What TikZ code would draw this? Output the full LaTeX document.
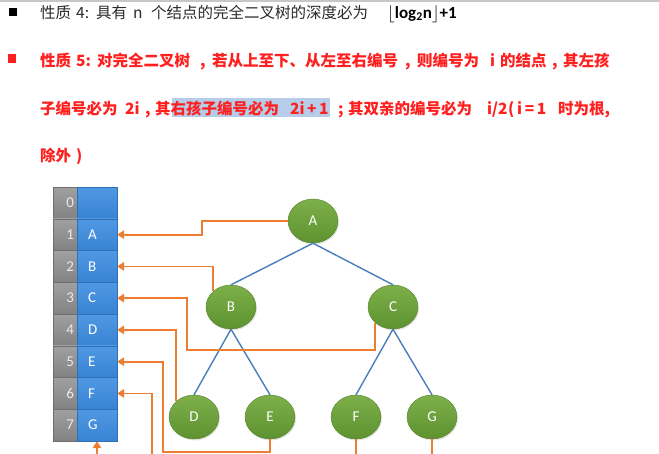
\documentclass[tikz,border=0pt]{standalone}
\usepackage{fontspec}
\setmainfont{Carlito}
\newfontfamily\cjk{Noto Sans CJK SC}
\usetikzlibrary{arrows.meta,shadows,shapes.geometric}
\definecolor{conncol}{HTML}{ED7D31}
\definecolor{treecol}{HTML}{4A7EBB}
\definecolor{greentop}{HTML}{7DB04A}
\definecolor{greenbot}{HTML}{5E9230}
\definecolor{redtxt}{HTML}{FF1F1F}
\definecolor{graytxt}{HTML}{2B2B2B}
\definecolor{hilite}{HTML}{B5CDE8}
\definecolor{graytop}{HTML}{A0A0A0}
\definecolor{graybot}{HTML}{828282}
\definecolor{bluetop}{HTML}{4F98E3}
\definecolor{bluebot}{HTML}{3883D4}
\begin{document}
\begin{tikzpicture}[x=1pt,y=-1pt,
  tnode/.style={ellipse, minimum width=50pt, minimum height=44pt, inner sep=0pt,
    top color=greentop, bottom color=greenbot, draw=greenbot!90!black, line width=0.4pt,
    text=white, font=\fontsize{15}{18}\selectfont,
    drop shadow={opacity=0.2, shadow xshift=1pt, shadow yshift=-1.5pt}},
  graycell/.style={rectangle, minimum height=31.75pt, text width=18pt, inner xsep=3pt,
    inner ysep=0pt, align=right, top color=graytop, bottom color=graybot,
    draw=graybot!85!black, line width=0.4pt, text=white!92!black,
    font=\fontsize{15}{18}\selectfont},
  bluecell/.style={rectangle, minimum height=31.75pt, text width=18pt, inner xsep=11pt,
    inner ysep=0pt, align=left, top color=bluetop, bottom color=bluebot,
    draw=bluebot!85!black, line width=0.4pt, text=white,
    font=\fontsize{15}{18}\selectfont},
  conn/.style={draw=conncol, line width=1.8pt,
    -{Triangle[length=7pt,width=8.5pt,fill=conncol]}},
  edge/.style={draw=treecol, line width=1.4pt},
  tgray/.style={anchor=base west, inner sep=0pt, text=graytxt,
    font=\cjk\fontsize{15.5}{18}\selectfont},
  tred/.style={anchor=base west, inner sep=0pt, text=redtxt,
    font=\cjk\bfseries\fontsize{15.5}{18}\selectfont},
  bulletbox/.style={rectangle, inner sep=0pt, minimum width=8pt, minimum height=8pt}
]
\useasboundingbox (0,0) rectangle (659,453);
\fill[white] (0,0) rectangle (659,453);
\begin{scope}
\clip (0,0) rectangle (659,453);
\draw[line width=1.5pt, draw=black!22] (0,0.8) -- (659,0.8);

% bullets
\node[bulletbox, fill=black] (b1) at (13,12) {};
\node[bulletbox, fill=redtxt, minimum height=9pt] (b2) at (12,58) {};

% line 1
\node[tgray] (l1a) at (40,18) {性质};
\node[tgray] (l1b) at (76,18) {4:};
\node[tgray] (l1c) at (96,18) {具有};
\node[tgray] (l1d) at (133,18) {n};
\node[tgray] (l1e) at (151,18) {个结点的完全二叉树的深度必为};
\node[anchor=base west, inner sep=0pt, text=black, font=\bfseries\fontsize{17}{20}\selectfont] (l1f) at (387,18) {$\lfloor$log\textsubscript{2}n$\rfloor$+1};

% line 2
\node[tred] (l2a) at (40,66) {性质};
\node[tred] (l2b) at (76,66) {5:};
\node[tred] (l2c) at (97,66) {对完全二叉树};
\node[tred] (l2d) at (200,66) {,};
\node[tred] (l2e) at (212,66) {若从上至下、从左至右编号};
\node[tred] (l2f) at (405,66) {,};
\node[tred] (l2g) at (417,66) {则编号为};
\node[tred] (l2h) at (490,66) {i};
\node[tred] (l2i) at (500,66) {的结点};
\node[tred] (l2j) at (552,66) {,};
\node[tred] (l2k) at (563,66) {其左孩};

% line 3
\fill[hilite] (172,98) rectangle (330,117);
\node[tred] (l3a) at (40,114) {子编号必为};
\node[tred] (l3b) at (125,114) {2i};
\node[tred] (l3c) at (145,114) {,};
\node[tred] (l3d) at (155,114) {其右孩子编号必为};
\node[tred] (l3e) at (290,114) {2i\,+\,1};
\node[tred] (l3f) at (338,114) {;};
\node[tred] (l3g) at (348,114) {其双亲的编号必为};
\node[tred] (l3h) at (487,114) {i/2};
\node[tred] (l3i) at (508,114) {(};
\node[tred] (l3j) at (517,114) {i\,=\,1};
\node[tred] (l3k) at (558,114) {时为根,};

% line 4
\node[tred] (l4a) at (40,161) {除外};
\node[tred] (l4b) at (76,161) {)};

% array
\foreach \i/\l in {0/{},1/A,2/B,3/C,4/D,5/E,6/F,7/G}{
  \node[graycell] (g\i) at (65,202.9+31.75*\i) {\i};
  \node[bluecell] (r\i) at (97,202.9+31.75*\i) {\l};
}

% tree
\node[tnode] (A) at (313,221) {A};
\node[tnode] (B) at (231,307) {B};
\node[tnode] (C) at (393,307) {C};
\node[tnode] (D) at (194,417) {D};
\node[tnode] (E) at (270,417) {E};
\node[tnode] (F) at (356,417) {F};
\node[tnode] (G) at (432,417) {G};
\draw[edge] (A.south) -- (B.north);
\draw[edge] (A.south) -- (C.north);
\draw[edge] (B.south) -- (D.north);
\draw[edge] (B.south) -- (E.north);
\draw[edge] (C.south) -- (F.north);
\draw[edge] (C.south) -- (G.north);

% connectors
\coordinate (gb) at (97,470);
\draw[conn] (A.west) -- (202,221) |- (r1.east);
\draw[conn] (B.north west) |- (r2.east);
\draw[conn] (C.south west) |- (187,350) |- (r3.east);
\draw[conn] (D.north west) |- (r4.east);
\draw[conn] (E.south) |- (163,452) |- (r5.east);
\draw[conn] (F.south) |- (152,462) |- (r6.east);
\draw[conn] (G.south) |- (gb) -- (r7.south);
\end{scope}
\end{tikzpicture}
\end{document}
